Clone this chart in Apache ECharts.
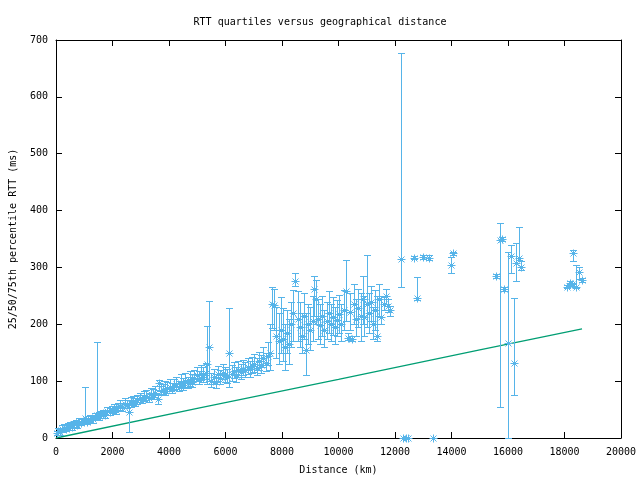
<!DOCTYPE html>
<html>
<head>
<meta charset="utf-8">
<script src="https://cdn.jsdelivr.net/npm/echarts@6/dist/echarts.min.js"></script>
<style>html,body{margin:0;padding:0;background:#fff}#c{width:640px;height:480px}</style>
</head>
<body>
<div id="c"></div>
<script>
var distanceKm = [30,80,150,200,280,350,420,500,560,620,700,760,830,900,960,1020,1080,1150,1220,1300,1380,1450,1520,1600,1680,1750,1820,1900,1980,2050,2120,2200,2280,2350,2430,2500,2570,2650,2720,2800,2880,2960,3040,3120,3200,3280,3360,3440,3520,3600,3640,3700,3780,3860,3940,4020,4100,4180,4260,4340,4420,4500,4580,4660,4740,4820,4900,4980,5060,5140,5220,5300,5350,5430,5500,5580,5660,5740,5820,5900,5980,6060,6140,6220,6300,6380,6460,6540,6620,6700,6780,6860,6940,7020,7100,7180,7260,7340,7420,7500,7580,7660,7720,7800,7880,7950,8030,8100,8180,8260,8330,8400,8470,8550,8620,8700,8780,8850,8930,9000,9080,9150,9200,9280,9350,9430,9500,9580,9650,9730,9800,9880,9950,10030,10100,10180,10260,10330,10400,10470,10550,10620,10700,10780,10850,10920,11000,11080,11150,11220,11300,11380,11450,11520,11600,11680,11750,11820,12200,12300,12380,12450,12660,12770,12980,13190,13330,13970,14070,15590,15700,15800,15870,16000,16120,16200,16300,16400,16470,18100,18200,18260,18310,18410,18520,18620];
var rttMedian = [8,12,10,15,18,16,20,22,19,24,26,23,28,27,30,35,29,32,34,33,37,40,38,42,44,41,47,46,50,52,49,55,57,54,60,58,45,62,65,63,67,70,68,72,74,71,78,76,80,68,97,82,85,83,88,90,87,92,95,90,97,93,100,96,102,99,105,110,104,112,108,115,130,160,100,107,98,112,105,115,110,108,150,113,118,110,120,116,122,119,124,121,126,130,123,135,128,140,132,145,150,236,234,180,170,190,175,160,185,165,200,220,276,210,195,180,215,155,200,190,205,262,245,210,198,215,190,205,220,200,212,195,208,218,200,225,258,176,222,175,235,210,228,215,245,212,235,220,240,200,225,180,245,212,235,250,232,225,315,0,0,0,317,246,318,317,0,304,325,285,348,350,262,167,320,132,308,317,301,266,273,270,325,266,292,278];
var rttQ25 = [5,8,6,10,12,12,14,17,14,18,20,18,22,22,24,28,24,27,28,27,31,34,32,36,38,35,40,40,44,46,43,48,50,48,53,52,10,55,58,57,60,63,61,65,67,64,70,69,72,60,85,75,77,75,80,82,80,84,86,82,88,85,90,88,92,90,95,100,95,102,98,103,95,100,90,95,88,100,95,103,99,97,90,101,105,99,107,104,110,107,112,108,114,116,110,120,115,124,118,128,120,193,190,140,130,150,135,120,150,130,160,170,267,170,160,150,175,110,165,155,170,215,200,175,165,180,160,175,185,170,182,165,180,185,170,190,205,172,190,170,200,180,195,170,200,180,195,185,205,175,190,170,215,200,225,235,222,215,265,0,0,0,315,243,315,313,0,290,322,281,55,346,259,0,290,75,276,313,295,263,270,268,311,264,280,275];
var rttQ75 = [12,18,15,22,24,22,27,28,25,30,32,29,35,33,36,90,35,38,40,39,44,168,45,48,50,47,54,52,57,60,56,62,66,61,70,66,67,72,74,70,76,80,75,82,84,80,88,86,92,78,102,92,95,100,98,103,96,104,108,100,112,105,114,108,118,112,120,125,118,128,124,132,197,241,115,122,112,126,120,130,125,122,229,128,133,125,135,130,138,134,140,136,142,148,140,152,146,160,150,168,200,265,262,230,220,248,228,200,225,210,240,260,290,258,240,220,255,220,235,230,250,285,278,245,235,250,225,240,258,235,248,230,242,252,235,260,313,185,255,180,270,245,262,255,285,250,322,255,268,230,260,250,270,250,248,262,245,232,677,0,0,0,320,283,321,322,0,318,328,288,378,353,265,327,339,246,343,371,312,269,276,272,330,304,300,281];
var lineDistanceKm = [0, 5000, 10000, 15000, 18620];
var lineRtt = [0, 52, 103, 155, 192];

var FONT = 'DejaVu Sans Mono';
var BLUE = '#56b4e9';
var data = distanceKm.map(function(d,i){ return [d, rttMedian[i], rttQ25[i], rttQ75[i]]; });

function seg(x1,y1,x2,y2){
  return {type:'line', shape:{x1:x1,y1:y1,x2:x2,y2:y2}, style:{stroke:BLUE, lineWidth:1}};
}
function plain(v){ return String(v); }

var chart = echarts.init(document.getElementById('c'), null, {renderer:'canvas'});
function axis(extra){
  var base = {
    type:'value', splitLine:{show:false},
    axisLine:{show:true, onZero:false, lineStyle:{color:'#000', width:1}},
    axisTick:{show:true, inside:true, length:6, lineStyle:{color:'#000'}},
    axisLabel:{color:'#000', fontFamily:FONT, fontSize:10, formatter:plain}
  };
  return Object.assign(base, extra);
}
chart.setOption({
  animation:false,
  backgroundColor:'#fff',
  title:{text:'RTT quartiles versus geographical distance', left:'center', top:12,
    textStyle:{fontFamily:FONT, fontSize:10, fontWeight:'normal', color:'#000'}},
  grid:{left:54, right:19, top:40, bottom:42},
  xAxis:[
    axis({min:0, max:20000, interval:2000, position:'bottom',
      name:'Distance (km)', nameLocation:'middle', nameGap:27,
      nameTextStyle:{fontFamily:FONT, fontSize:10, color:'#000'},
      axisLabel:{color:'#000', fontFamily:FONT, fontSize:10, margin:9, formatter:plain}}),
    axis({min:0, max:20000, interval:2000, position:'top', axisLabel:{show:false}})
  ],
  yAxis:[
    axis({min:0, max:700, interval:100, position:'left',
      name:'25/50/75th percentile RTT (ms)', nameLocation:'middle', nameGap:38, nameRotate:90,
      nameTextStyle:{fontFamily:FONT, fontSize:10, color:'#000'},
      axisLabel:{color:'#000', fontFamily:FONT, fontSize:10, margin:8, formatter:plain}}),
    axis({min:0, max:700, interval:100, position:'right', axisLabel:{show:false}})
  ],
  series:[
    {
      type:'line', xAxisIndex:0, yAxisIndex:0,
      data: lineDistanceKm.map(function(d,i){ return [d, lineRtt[i]]; }),
      showSymbol:false, lineStyle:{color:'#009e73', width:1.3}, z:2
    },
    {
      type:'custom', xAxisIndex:0, yAxisIndex:0, clip:false, z:3,
      encode:{x:0, y:[1,2,3]},
      data:data,
      renderItem:function(params, api){
        var x = api.value(0), m = api.value(1), lo = api.value(2), hi = api.value(3);
        var p = api.coord([x,m]), pl = api.coord([x,lo]), ph = api.coord([x,hi]);
        var ch = [];
        var cx = Math.round(p[0]) + 0.5;
        if (hi - lo > 0) {
          var yl = Math.round(pl[1]) + 0.5, yh = Math.round(ph[1]) + 0.5;
          ch.push(seg(cx, yl, cx, yh));
          ch.push(seg(cx-3.5, yl, cx+3.5, yl));
          ch.push(seg(cx-3.5, yh, cx+3.5, yh));
        }
        var cy = Math.round(p[1]) + 0.5, s = 4;
        ch.push(seg(cx-s, cy, cx+s, cy));
        ch.push(seg(cx, cy-s, cx, cy+s));
        ch.push(seg(cx-s+1, cy-s+1, cx+s-1, cy+s-1));
        ch.push(seg(cx-s+1, cy+s-1, cx+s-1, cy-s+1));
        return {type:'group', children:ch};
      }
    }
  ]
});
</script>
</body>
</html>
